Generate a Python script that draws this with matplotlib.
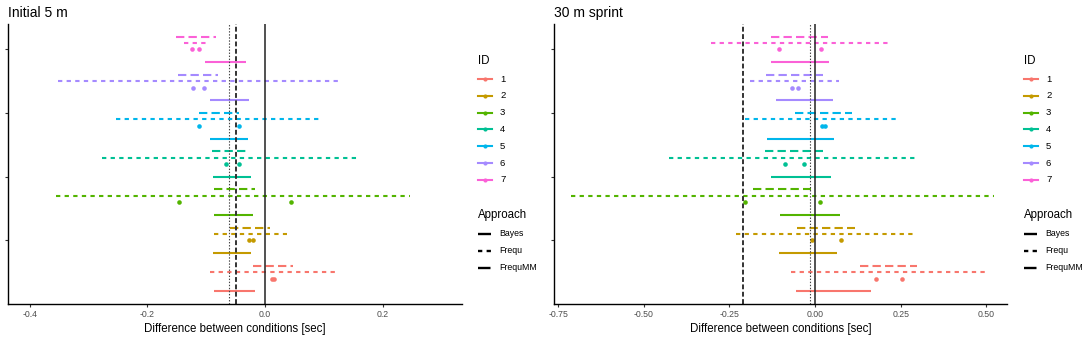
import numpy as np
import matplotlib
matplotlib.use("Agg")
import matplotlib.pyplot as plt
from matplotlib.lines import Line2D

plt.rcParams['font.family'] = ['Liberation Sans', 'DejaVu Sans']
plt.rcParams['lines.scale_dashes'] = False

ids = ['1', '2', '3', '4', '5', '6', '7']
colors = ['#F8766D', '#C49A00', '#53B400', '#00C094', '#00B6EB', '#A58AFF', '#FB61D7']
approaches = ['Bayes', 'Frequ', 'FrequMM']

# Initial 5 m: (lower, upper) per ID
init_bayes = [(-0.086, -0.017), (-0.089, -0.023), (-0.087, -0.020), (-0.088, -0.023),
              (-0.094, -0.029), (-0.094, -0.028), (-0.102, -0.033)]
init_frequ = [(-0.094, 0.121), (-0.086, 0.038), (-0.355, 0.247), (-0.278, 0.161),
              (-0.254, 0.097), (-0.352, 0.125), (-0.138, -0.101)]
init_frequmm = [(-0.020, 0.048), (-0.060, 0.009), (-0.086, -0.017), (-0.090, -0.030),
                (-0.112, -0.044), (-0.148, -0.080), (-0.152, -0.083)]
init_points = [(0.0125, 0.016), (-0.028, -0.021), (-0.147, 0.044), (-0.067, -0.045),
               (-0.112, -0.044), (-0.123, -0.104), (-0.124, -0.112)]
init_dotted = -0.061
init_dashed = -0.049

# 30 m sprint
sprint_bayes = [(-0.055, 0.162), (-0.106, 0.064), (-0.102, 0.072), (-0.128, 0.047),
                (-0.141, 0.056), (-0.115, 0.052), (-0.128, 0.040)]
sprint_frequ = [(-0.070, 0.500), (-0.230, 0.293), (-0.713, 0.522), (-0.427, 0.299),
                (-0.206, 0.240), (-0.189, 0.070), (-0.304, 0.215)]
sprint_frequmm = [(0.130, 0.298), (-0.052, 0.115), (-0.180, -0.013), (-0.145, 0.023),
                  (-0.060, 0.109), (-0.143, 0.023), (-0.128, 0.037)]
sprint_points = [(0.179, 0.255), (-0.009, 0.075), (-0.204, 0.015), (-0.089, -0.031),
                 (0.021, 0.028), (-0.068, -0.050), (-0.106, 0.016)]
sprint_dotted = -0.016
sprint_dashed = -0.209

W, H = 1084, 339
fig = plt.figure(figsize=(W / 100, H / 100), dpi=100)

def px_rect(x0, y0, x1, y1):
    return [x0 / W, 1 - y1 / H, (x1 - x0) / W, (y1 - y0) / H]

LW = 1.5
styles = {'Bayes': '-', 'Frequ': (0, (3.1, 3.1)), 'FrequMM': (0, (6.0, 3.0))}


def panel(rect, title, bayes, frequ, frequmm, points, dotted, dashed, xlim, xticks, xfmt):
    ax = fig.add_axes(rect)
    for g in range(7):
        base = 6 * g + 2
        c = colors[g]
        ax.plot(bayes[g], [base, base], color=c, lw=LW, ls=styles['Bayes'], solid_capstyle='butt')
        ax.plot(points[g], [base + 2, base + 2], 'o', color=c, ms=3.3, mew=0)
        ax.plot(frequ[g], [base + 3, base + 3], color=c, lw=LW, ls=styles['Frequ'], dash_capstyle='butt')
        ax.plot(frequmm[g], [base + 4, base + 4], color=c, lw=LW, ls=styles['FrequMM'], dash_capstyle='butt')
    ax.axvline(0, color='#222222', lw=1.1)
    ax.axvline(dotted, color='#444444', lw=0.8, ls=(0, (1, 1.2)))
    ax.axvline(dashed, color='#333333', lw=1.4, ls=(0, (3.5, 1.8)))
    ax.set_xlim(*xlim)
    ax.set_ylim(0, 44)
    ax.set_xticks(xticks)
    ax.set_xticklabels([xfmt.format(v) for v in xticks], color='#4D4D4D', fontsize=6.3)
    ax.set_yticks([10, 20, 30, 40])
    ax.set_yticklabels([])
    ax.tick_params(axis='both', length=2.5, width=0.8, color='#333333', pad=2)
    for s in ['top', 'right']:
        ax.spines[s].set_visible(False)
    for s in ['left', 'bottom']:
        ax.spines[s].set_linewidth(1.0)
    ax.set_xlabel('Difference between conditions [sec]', fontsize=8.3, labelpad=3)
    ax.set_title(title, loc='left', fontsize=10, pad=5, x=0.0)
    return ax


panel(px_rect(8, 24, 462, 304), 'Initial 5 m', init_bayes, init_frequ, init_frequmm,
      init_points, init_dotted, init_dashed, (-0.437, 0.335), [-0.4, -0.2, 0.0, 0.2], '{:.1f}')
panel(px_rect(554, 24, 1007, 304), '30 m sprint', sprint_bayes, sprint_frequ, sprint_frequmm,
      sprint_points, sprint_dotted, sprint_dashed, (-0.762, 0.56),
      [-0.75, -0.5, -0.25, 0.0, 0.25, 0.5], '{:.2f}')


def fx(x):
    return x / W


def fy(y):
    return 1 - y / H


def legend(x0):
    fig.text(fx(x0), fy(61), 'ID', fontsize=8.3, va='center', ha='left')
    for i, (lab, c) in enumerate(zip(ids, colors)):
        y = 79 + i * 16.8
        fig.add_artist(Line2D([fx(x0), fx(x0 + 14)], [fy(y), fy(y)], color=c, lw=LW))
        fig.add_artist(Line2D([fx(x0 + 7)], [fy(y)], marker='o', color=c, ms=3, mew=0))
        fig.text(fx(x0 + 22), fy(y), lab, fontsize=6.8, va='center', ha='left')
    fig.text(fx(x0), fy(215), 'Approach', fontsize=8.3, va='center', ha='left')
    for i, a in enumerate(approaches):
        y = 234 + i * 16.8
        fig.add_artist(Line2D([fx(x0), fx(x0 + 13)], [fy(y), fy(y)], color='black', lw=1.7,
                              ls=styles[a] if a != 'FrequMM' else (0, (9, 20)),
                              dash_capstyle='butt', solid_capstyle='butt'))
        fig.text(fx(x0 + 21), fy(y), a, fontsize=6.3, va='center', ha='left')


legend(478)
legend(1024)

fig.savefig('out.png', dpi=100)
